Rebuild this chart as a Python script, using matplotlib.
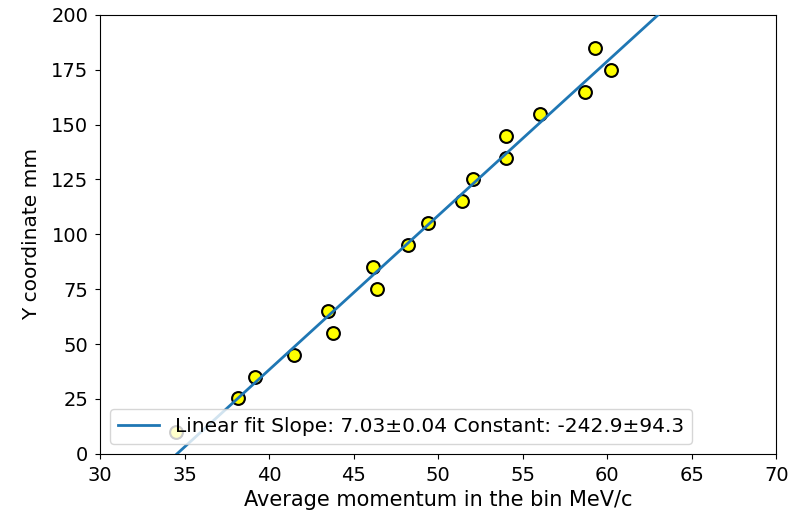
import numpy as np
import matplotlib.pyplot as plt

# average momentum (MeV/c) and y coordinate (mm)
mom = [34.5, 38.15, 39.16, 41.46, 43.45, 43.8, 46.15, 46.4, 48.22, 49.4,
       51.4, 52.07, 53.99, 54.03, 56.0, 58.7, 59.3, 60.23]
ycoord = [10, 25.5, 35, 45, 65, 55, 85, 75, 95, 105,
          115, 125, 135, 145, 155, 165, 185, 175]
slope, const = 7.03, -242.9

fig = plt.figure(figsize=(7.89, 5.15), dpi=100)
ax = fig.add_axes([0.127, 0.119, 0.857, 0.852])
ax.scatter(mom, ycoord, s=85, c='yellow', edgecolors='black', linewidths=1.5, zorder=2)
xx = np.linspace(30, 70, 200)
ax.plot(xx, slope * xx + const, color='tab:blue', lw=2, zorder=3,
        label='Linear fit Slope: 7.03±0.04 Constant: -242.9±94.3')
ax.set_xlim(30, 70)
ax.set_ylim(0, 200)
ax.set_xlabel('Average momentum in the bin MeV/c', fontsize=15)
ax.set_ylabel('Y coordinate mm', fontsize=14.5, labelpad=7)
ax.tick_params(labelsize=14, pad=5)
ax.legend(loc='lower left', fontsize=14.5)
fig.savefig('out.png')
